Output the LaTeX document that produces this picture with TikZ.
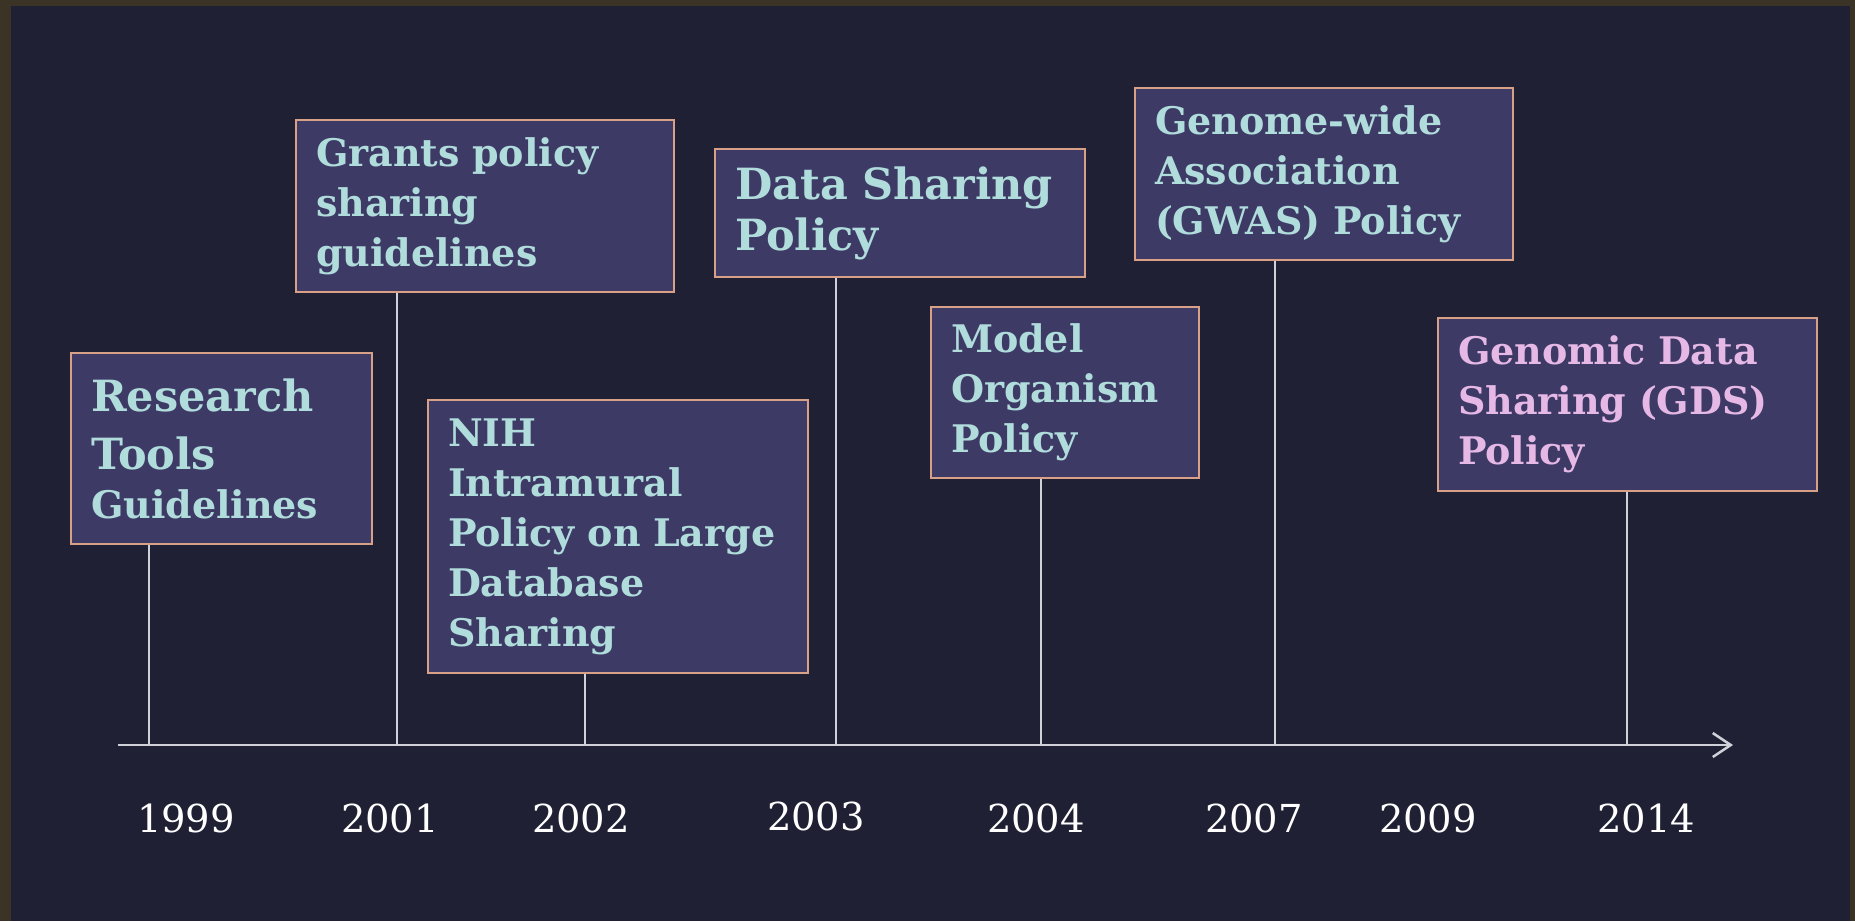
\documentclass[tikz,border=0pt]{standalone}
\usepackage{fontspec}
\setmainfont{DejaVu Serif}
\usetikzlibrary{arrows.meta}
\definecolor{frame}{HTML}{3B3426}
\definecolor{navy}{HTML}{1F2034}
\definecolor{boxfill}{HTML}{3E3A66}
\definecolor{boxline}{HTML}{D9A088}
\definecolor{policytext}{HTML}{B0DCDC}
\definecolor{gdstext}{HTML}{E6B8E6}
\definecolor{axisgrey}{HTML}{D0D0D8}
\begin{document}
\begin{tikzpicture}[x=1pt,y=-1pt,>={Straight Barb[length=18pt,width=24pt,line width=2.5pt]},
	policy/.style={draw=boxline,line width=2pt,fill=boxfill,anchor=north west,align=left,
		inner xsep=20pt,inner ysep=0pt,text=policytext,font=\bfseries\fontsize{38}{50}\selectfont},
	year/.style={text=white,anchor=base,font=\fontsize{38.5}{40}\selectfont},
	stem/.style={draw=axisgrey,line width=2pt}]
	\useasboundingbox (0,0) rectangle (1855,921);
	\fill[frame] (0,0) rectangle (1855,921);
	\fill[navy] (11,6) rectangle (1850,921);
	% policy boxes
	\node[policy,text width=261pt,minimum height=191pt] (rtg) at (70,352)
		{{\fontsize{43}{50}\selectfont Research\\[8pt] Tools}\\[-1pt] Guidelines};
	\node[policy,text width=338pt,minimum height=172pt] (gps) at (295,119) {Grants policy\\ sharing\\ guidelines};
	\node[policy,text width=340pt,minimum height=273pt] (nih) at (427,399)
		{NIH\\ Intramural\\ Policy on Large\\ Database\\ Sharing};
	\node[policy,text width=330pt,minimum height=128pt,font=\bfseries\fontsize{43}{51}\selectfont] (dsp) at (714,148)
		{Data Sharing\\ Policy};
	\node[policy,text width=228pt,minimum height=171pt] (mop) at (930,306) {Model\\ Organism\\ Policy};
	\node[policy,text width=338pt,minimum height=172pt] (gwas) at (1134,87)
		{Genome-wide\\ Association\\ (GWAS) Policy};
	\node[policy,text width=339pt,minimum height=173pt,text=gdstext] (gds) at (1437,317)
		{Genomic Data\\ Sharing (GDS)\\ Policy};
	% stems down to the time axis
	\coordinate (s1999) at (149,745);
	\coordinate (s2001) at (397,745);
	\coordinate (s2002) at (585,745);
	\coordinate (s2003) at (836,745);
	\coordinate (s2004) at (1041,745);
	\coordinate (s2007) at (1275,745);
	\coordinate (s2014) at (1627,745);
	\draw[stem] (s1999) -- (s1999 |- rtg.south);
	\draw[stem] (s2001) -- (s2001 |- gps.south);
	\draw[stem] (s2002) -- (s2002 |- nih.south);
	\draw[stem] (s2003) -- (s2003 |- dsp.south);
	\draw[stem] (s2004) -- (s2004 |- mop.south);
	\draw[stem] (s2007) -- (s2007 |- gwas.south);
	\draw[stem] (s2014) -- (s2014 |- gds.south);
	\coordinate (axstart) at (118,745);
	\coordinate (axend) at (1733,745);
	\draw[->,axisgrey,line width=2.5pt] (axstart) -- (axend);
	% years
	\path (186,832)node[year](y1999){1999} (390,832)node[year](y2001){2001}
		(581,832)node[year](y2002){2002} (816,830)node[year](y2003){2003}
		(1036,832)node[year](y2004){2004} (1254,832)node[year](y2007){2007}
		(1428,832)node[year](y2009){2009} (1646,832)node[year](y2014){2014};
\end{tikzpicture}
\end{document}
